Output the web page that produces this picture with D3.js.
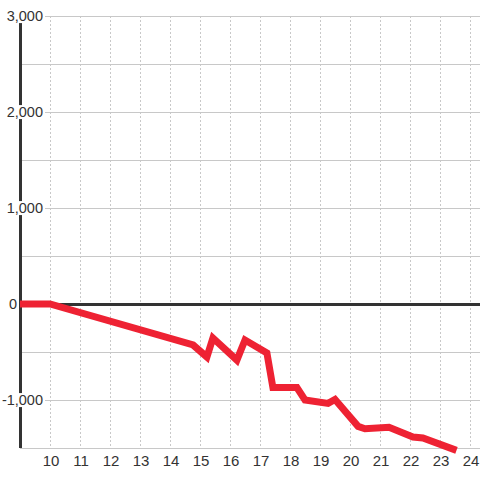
<!DOCTYPE html>
<html>
<head>
<meta charset="utf-8">
<script src="https://cdn.jsdelivr.net/npm/d3@7"></script>
<style>
  body { margin: 0; background: #fff; }
  text { font-family: "Liberation Sans", Arial, sans-serif; }
</style>
</head>
<body>
<div id="chart"></div>
<script>
// series
const xs = [9, 10, 14.77, 15.23, 15.43, 16.23, 16.5, 17.23, 17.43, 18.23, 18.5, 19.27, 19.5, 20.27, 20.5, 21.3, 22.1, 22.43, 23.55];
const ys = [0, 0, -427, -552, -354, -585, -375, -510, -870, -870, -1000, -1035, -995, -1275, -1300, -1285, -1385, -1395, -1525];
const xTicks = [10, 11, 12, 13, 14, 15, 16, 17, 18, 19, 20, 21, 22, 23, 24];
const yTicks = [3000, 2000, 1000, 0, -1000];
const yGrid = [3000, 2500, 2000, 1500, 1000, 500, 0, -500, -1000, -1500];

const totalWidth = 480, totalHeight = 480;
const margins = {top: 16, bottom: 32, left: 20, right: 0};

const svg = d3.select('#chart').append('svg')
  .attr('width', totalWidth)
  .attr('height', totalHeight);

const x = d3.scaleLinear().domain([9, 9 + 460 / 30]).range([margins.left, totalWidth - margins.right]);
const y = d3.scaleLinear().domain([3000, -1500]).range([margins.top, totalHeight - margins.bottom]);

// vertical dashed grid
svg.append('g').selectAll('line')
  .data(xTicks)
  .enter().append('line')
  .attr('x1', d => x(d) + 0.5).attr('x2', d => x(d) + 0.5)
  .attr('y1', y(3000)).attr('y2', y(-1500))
  .style('stroke', '#c8c8c8')
  .style('stroke-dasharray', '2,2');

// horizontal grid
svg.append('g').selectAll('line')
  .data(yGrid)
  .enter().append('line')
  .attr('x1', margins.left).attr('x2', totalWidth)
  .attr('y1', d => y(d) + 0.5).attr('y2', d => y(d) + 0.5)
  .style('stroke', '#c8c8c8');

// y axis line
svg.append('line')
  .attr('x1', margins.left + 0.5).attr('x2', margins.left + 0.5)
  .attr('y1', y(3000)).attr('y2', y(-1500))
  .style('stroke', '#333')
  .style('stroke-width', 3);

// zero line
svg.append('line')
  .attr('x1', margins.left).attr('x2', totalWidth)
  .attr('y1', y(0) + 0.5).attr('y2', y(0) + 0.5)
  .style('stroke', '#333')
  .style('stroke-width', 3);

// red line
const line = d3.line().x(d => x(d[0])).y(d => y(d[1]));
svg.append('path')
  .datum(d3.zip(xs, ys))
  .attr('d', line)
  .style('fill', 'none')
  .style('stroke', '#ee2233')
  .style('stroke-width', 7)
  .style('stroke-linejoin', 'miter');

// y labels with white background (zero sits left of the axis)
const fmt = d => d3.format(',')(d).replace('\u2212', '-');
const yLab = svg.append('g').selectAll('g')
  .data(yTicks)
  .enter().append('g')
  .attr('transform', d => 'translate(' + [d === 0 ? 17 : 43, y(d)] + ')');

yLab.append('text')
  .attr('text-anchor', 'end')
  .attr('dy', '0.35em')
  .style('font-size', '14.5px')
  .style('fill', '#333')
  .text(fmt);

yLab.filter(d => d !== 0).each(function() {
  const g = d3.select(this);
  const bb = g.select('text').node().getBBox();
  g.insert('rect', 'text')
    .attr('x', bb.x - 2).attr('y', bb.y + 1)
    .attr('width', bb.width + 4).attr('height', bb.height - 2)
    .style('fill', '#fff');
});

// x labels
svg.append('g').selectAll('text')
  .data(xTicks)
  .enter().append('text')
  .attr('x', d => x(d) + 1)
  .attr('y', 466)
  .attr('text-anchor', 'middle')
  .style('font-size', '15px')
  .style('fill', '#333')
  .text(d => d);
</script>
</body>
</html>
